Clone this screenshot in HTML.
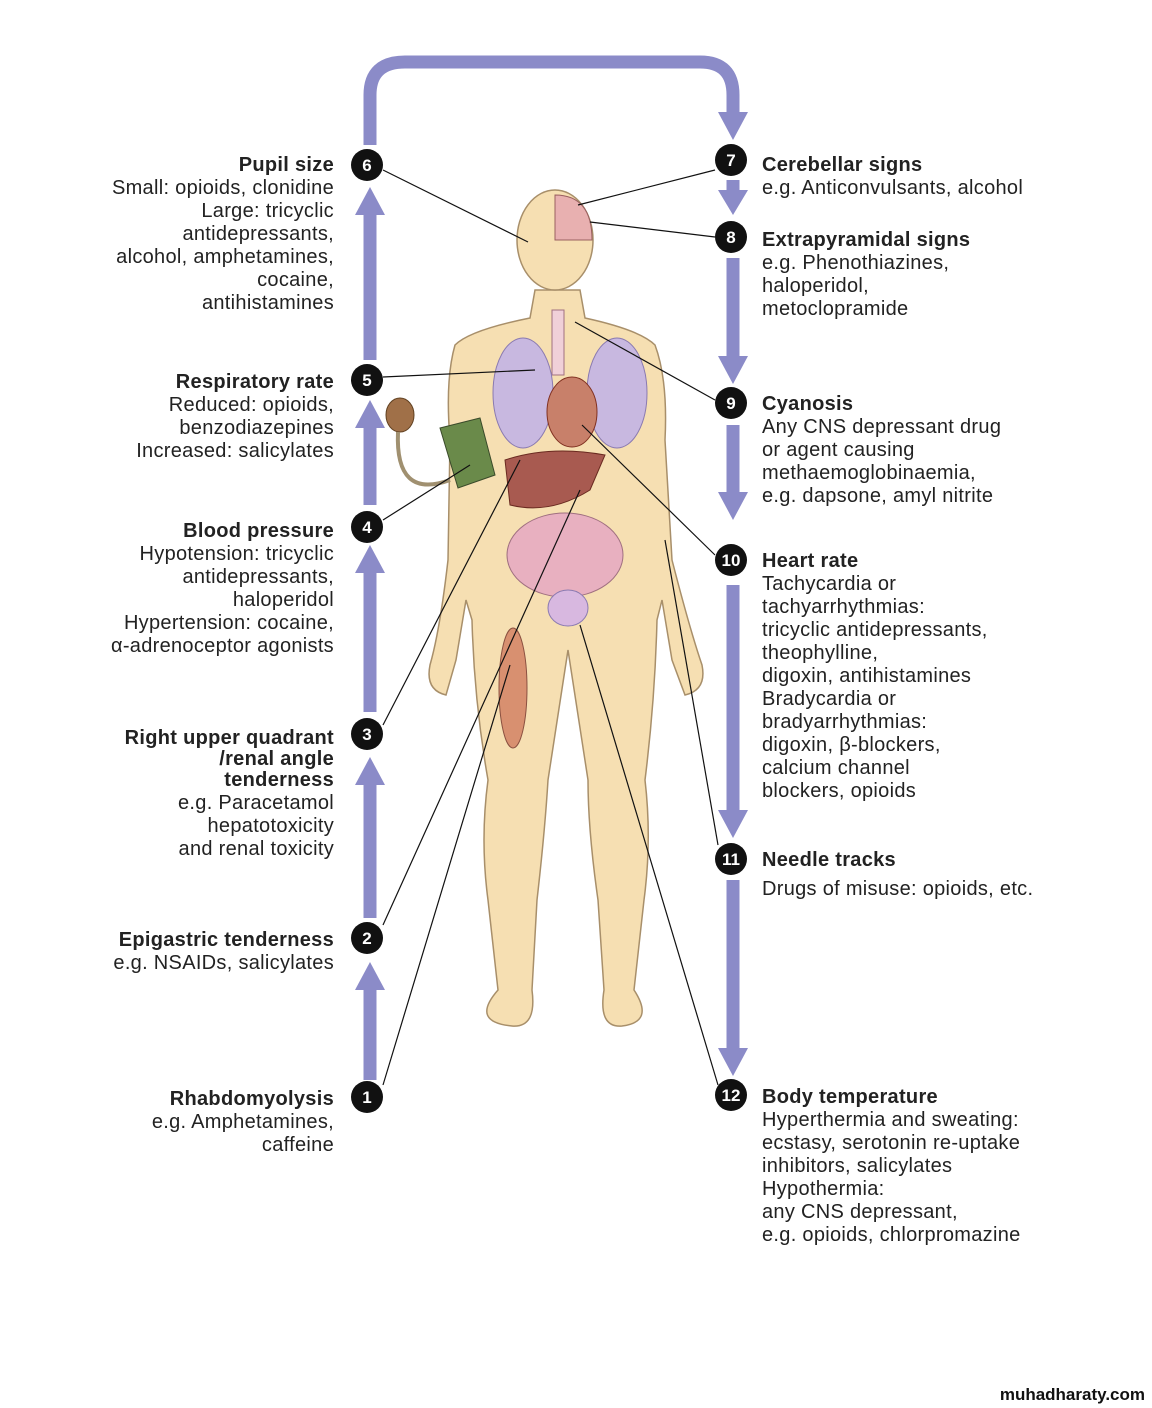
<!DOCTYPE html>
<html><head><meta charset="utf-8"><style>
html,body{margin:0;padding:0;background:#fff}
svg{display:block}
text{font-family:"Liberation Sans",sans-serif;font-size:20px;letter-spacing:0.3px;fill:#222}
.b{font-weight:bold}
.n{fill:#fff;font-weight:bold;font-size:17px;letter-spacing:0}
</style></head><body>
<svg width="1152" height="1408" viewBox="0 0 1152 1408" xmlns="http://www.w3.org/2000/svg">
<g fill="none" stroke="#8b8bc8" stroke-width="13">
<path d="M370 1080 V980 M370 918 V775 M370 712 V565 M370 505 V418 M370 360 V205 M370 145 V95 Q370 62 405 62 H700 Q733 62 733 95 V120 M733 180 V198 M733 258 V365 M733 425 V500 M733 585 V820 M733 880 V1058"/>
</g>
<g fill="#8b8bc8">
<polygon points="355,990 385,990 370,962"/>
<polygon points="355,785 385,785 370,757"/>
<polygon points="355,573 385,573 370,545"/>
<polygon points="355,428 385,428 370,400"/>
<polygon points="355,215 385,215 370,187"/>
<polygon points="718,112 748,112 733,140"/>
<polygon points="718,190 748,190 733,215"/>
<polygon points="718,356 748,356 733,384"/>
<polygon points="718,492 748,492 733,520"/>
<polygon points="718,810 748,810 733,838"/>
<polygon points="718,1048 748,1048 733,1076"/>
</g>
<g fill="#f6dfb2" stroke="#a88f6a" stroke-width="1.5">
<path d="M455 345 Q470 330 530 318 L535 290 L580 290 L585 318 Q640 330 655 345 Q668 380 665 440 L672 560 Q690 630 702 665 Q707 690 685 695 L672 660 L662 600 L657 620 Q655 700 645 780 Q652 840 644 900 L634 990 Q655 1022 622 1026 Q598 1028 604 990 L598 900 Q588 830 588 780 L568 650 L548 780 Q545 830 537 900 L532 990 Q537 1028 512 1026 Q470 1022 498 990 L488 900 Q480 840 488 780 Q474 700 472 620 L466 600 L456 660 L446 695 Q425 690 430 665 Q440 630 448 560 L450 440 Q445 380 455 345Z"/>
<ellipse cx="555" cy="240" rx="38" ry="50"/>
</g>
<path d="M555 195 Q592 195 592 240 L555 240Z" fill="#e8b0b0" stroke="#9a6060"/>
<rect x="552" y="310" width="12" height="65" fill="#f0d0d8" stroke="#a07080"/>
<ellipse cx="523" cy="393" rx="30" ry="55" fill="#c8b8e0" stroke="#8a7ab0"/>
<ellipse cx="617" cy="393" rx="30" ry="55" fill="#c8b8e0" stroke="#8a7ab0"/>
<ellipse cx="572" cy="412" rx="25" ry="35" fill="#c8806a" stroke="#803020"/>
<path d="M505 460 Q550 445 605 455 L590 490 Q550 515 510 505Z" fill="#a85a50" stroke="#6a2a20"/>
<ellipse cx="565" cy="555" rx="58" ry="42" fill="#e8b0c0" stroke="#a07080"/>
<ellipse cx="568" cy="608" rx="20" ry="18" fill="#d8b8e0" stroke="#8a7ab0"/>
<ellipse cx="513" cy="688" rx="14" ry="60" fill="#d89070" stroke="#8a5040"/>
<path d="M440 428 L480 418 L495 475 L458 488Z" fill="#6a8a4a" stroke="#3a4a2a"/>
<ellipse cx="400" cy="415" rx="14" ry="17" fill="#a07048" stroke="#604020"/>
<path d="M398 432 Q395 500 450 480" fill="none" stroke="#a09070" stroke-width="4"/>
<g stroke="#111" stroke-width="1.2">
<line x1="383" y1="170" x2="528" y2="242"/>
<line x1="715" y1="170" x2="578" y2="205"/>
<line x1="715" y1="237" x2="590" y2="222"/>
<line x1="715" y1="400" x2="575" y2="322"/>
<line x1="383" y1="377" x2="535" y2="370"/>
<line x1="383" y1="520" x2="470" y2="465"/>
<line x1="715" y1="555" x2="582" y2="425"/>
<line x1="383" y1="725" x2="520" y2="460"/>
<line x1="383" y1="925" x2="580" y2="490"/>
<line x1="383" y1="1085" x2="510" y2="665"/>
<line x1="718" y1="845" x2="665" y2="540"/>
<line x1="718" y1="1085" x2="580" y2="625"/>
</g>
<g fill="#111">
<circle cx="367" cy="1097" r="16"/><circle cx="367" cy="938" r="16"/><circle cx="367" cy="734" r="16"/>
<circle cx="367" cy="527" r="16"/><circle cx="367" cy="380" r="16"/><circle cx="367" cy="165" r="16"/>
<circle cx="731" cy="160" r="16"/><circle cx="731" cy="237" r="16"/><circle cx="731" cy="403" r="16"/>
<circle cx="731" cy="560" r="16"/><circle cx="731" cy="859" r="16"/><circle cx="731" cy="1095" r="16"/>
</g>
<g text-anchor="middle">
<text class="n" x="367" y="1103">1</text><text class="n" x="367" y="944">2</text><text class="n" x="367" y="740">3</text>
<text class="n" x="367" y="533">4</text><text class="n" x="367" y="386">5</text><text class="n" x="367" y="171">6</text>
<text class="n" x="731" y="166">7</text><text class="n" x="731" y="243">8</text><text class="n" x="731" y="409">9</text>
<text class="n" x="731" y="566">10</text><text class="n" x="731" y="865">11</text><text class="n" x="731" y="1101">12</text>
</g>
<g text-anchor="end">
<text x="334" y="171" class="b">Pupil size</text>
<text x="334" y="194">Small: opioids, clonidine</text>
<text x="334" y="217">Large: tricyclic</text>
<text x="334" y="240">antidepressants,</text>
<text x="334" y="263">alcohol, amphetamines,</text>
<text x="334" y="286">cocaine,</text>
<text x="334" y="309">antihistamines</text>
<text x="334" y="388" class="b">Respiratory rate</text>
<text x="334" y="411">Reduced: opioids,</text>
<text x="334" y="434">benzodiazepines</text>
<text x="334" y="457">Increased: salicylates</text>
<text x="334" y="537" class="b">Blood pressure</text>
<text x="334" y="560">Hypotension: tricyclic</text>
<text x="334" y="583">antidepressants,</text>
<text x="334" y="606">haloperidol</text>
<text x="334" y="629">Hypertension: cocaine,</text>
<text x="334" y="652">α-adrenoceptor agonists</text>
<text x="334" y="744" class="b">Right upper quadrant</text>
<text x="334" y="765" class="b">/renal angle</text>
<text x="334" y="786" class="b">tenderness</text>
<text x="334" y="809">e.g. Paracetamol</text>
<text x="334" y="832">hepatotoxicity</text>
<text x="334" y="855">and renal toxicity</text>
<text x="334" y="946" class="b">Epigastric tenderness</text>
<text x="334" y="969">e.g. NSAIDs, salicylates</text>
<text x="334" y="1105" class="b">Rhabdomyolysis</text>
<text x="334" y="1128">e.g. Amphetamines,</text>
<text x="334" y="1151">caffeine</text>
</g>
<g>
<text x="762" y="171" class="b">Cerebellar signs</text>
<text x="762" y="194">e.g. Anticonvulsants, alcohol</text>
<text x="762" y="246" class="b">Extrapyramidal signs</text>
<text x="762" y="269">e.g. Phenothiazines,</text>
<text x="762" y="292">haloperidol,</text>
<text x="762" y="315">metoclopramide</text>
<text x="762" y="410" class="b">Cyanosis</text>
<text x="762" y="433">Any CNS depressant drug</text>
<text x="762" y="456">or agent causing</text>
<text x="762" y="479">methaemoglobinaemia,</text>
<text x="762" y="502">e.g. dapsone, amyl nitrite</text>
<text x="762" y="567" class="b">Heart rate</text>
<text x="762" y="590">Tachycardia or</text>
<text x="762" y="613">tachyarrhythmias:</text>
<text x="762" y="636">tricyclic antidepressants,</text>
<text x="762" y="659">theophylline,</text>
<text x="762" y="682">digoxin, antihistamines</text>
<text x="762" y="705">Bradycardia or</text>
<text x="762" y="728">bradyarrhythmias:</text>
<text x="762" y="751">digoxin, β-blockers,</text>
<text x="762" y="774">calcium channel</text>
<text x="762" y="797">blockers, opioids</text>
<text x="762" y="866" class="b">Needle tracks</text>
<text x="762" y="895">Drugs of misuse: opioids, etc.</text>
<text x="762" y="1103" class="b">Body temperature</text>
<text x="762" y="1126">Hyperthermia and sweating:</text>
<text x="762" y="1149">ecstasy, serotonin re-uptake</text>
<text x="762" y="1172">inhibitors, salicylates</text>
<text x="762" y="1195">Hypothermia:</text>
<text x="762" y="1218">any CNS depressant,</text>
<text x="762" y="1241">e.g. opioids, chlorpromazine</text>
</g>
<text x="1145" y="1400" text-anchor="end" style="font-size:17px;font-weight:bold;fill:#111;letter-spacing:0">muhadharaty.com</text>
</svg>
</body></html>
